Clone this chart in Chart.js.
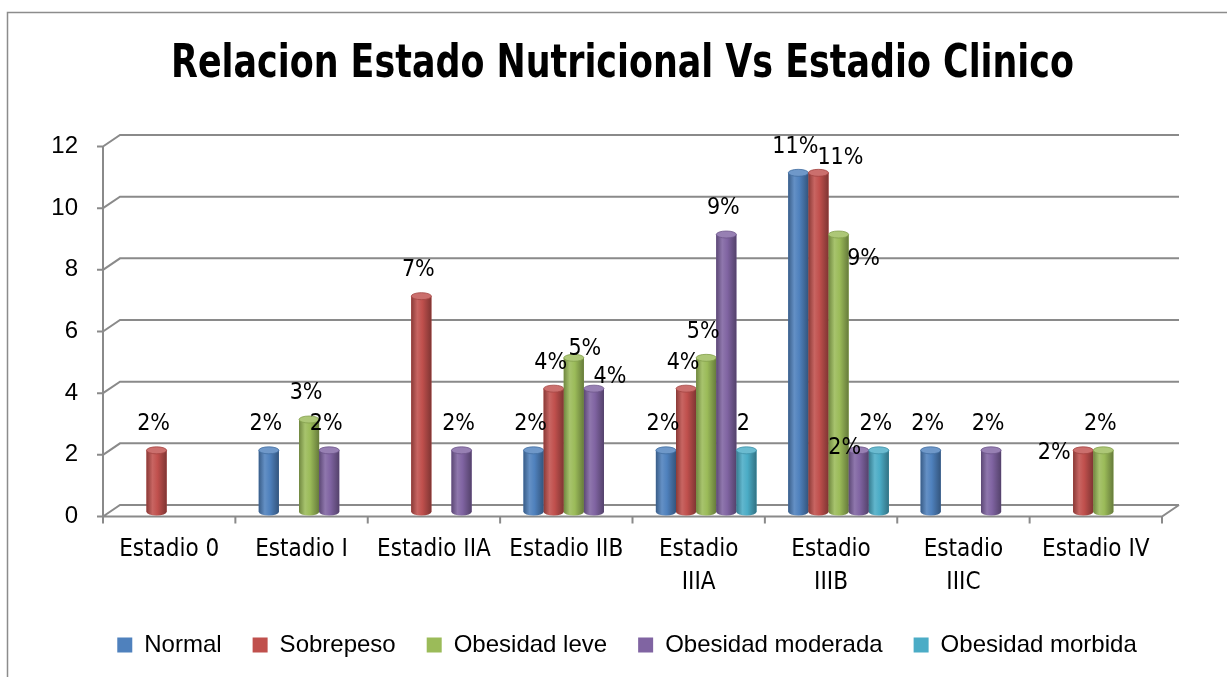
<!DOCTYPE html>
<html>
<head>
<meta charset="utf-8">
<script src="https://cdn.jsdelivr.net/npm/chart.js@4.4.0/dist/chart.umd.min.js"></script>
<style>
  html, body { margin: 0; padding: 0; background: #fff; }
  canvas { display: block; }
</style>
</head>
<body>
<canvas id="chart" width="1227" height="677"></canvas>
<script>
const chartTitle = "Relacion Estado Nutricional Vs Estadio Clinico";
const stages = [
  "Estadio 0",
  "Estadio I",
  "Estadio IIA",
  "Estadio IIB",
  ["Estadio", "IIIA"],
  ["Estadio", "IIIB"],
  ["Estadio", "IIIC"],
  "Estadio IV",
];
const normal = [0, 2, 0, 2, 2, 11, 2, 0];
const sobrepeso = [2, 0, 7, 4, 4, 11, 0, 2];
const obesidadLeve = [0, 3, 0, 5, 5, 9, 0, 2];
const obesidadModerada = [0, 2, 2, 4, 9, 2, 2, 0];
const obesidadMorbida = [0, 0, 0, 0, 2, 2, 0, 0];
const yTicks = [0, 2, 4, 6, 8, 10, 12];

const narrow = "'DejaVu Sans Condensed', 'Liberation Sans Narrow', sans-serif";
const regular = "'Liberation Sans', Arial, sans-serif";
const gridColor = "#8a8a8a";

// label text that differs from "value%"
const labelText = { "4-4": "2" };
// labels Excel moved around to avoid overlaps
const labelNudge = {
  "2-3": [14, 17],
  "3-3": [19, 14],
  "1-5": [25, 11],
  "2-5": [28, 51],
  "3-5": [-11, 24],
  "1-7": [-26, 29],
};

// 3d depth: front plane and back wall relative to where bars stand
const front = { dx: -7.5, dy: 4.5 };
const back = { dx: 9.5, dy: -7 };

function shade(hex, f) {
  const n = parseInt(hex.slice(1), 16);
  const mix = (c) => (f < 1 ? Math.round(c * f) : Math.round(c + (255 - c) * (f - 1)));
  return `rgb(${mix(n >> 16)},${mix((n >> 8) & 255)},${mix(n & 255)})`;
}

const frame = {
  id: "frame",
  beforeDraw(chart) {
    const ctx = chart.ctx;
    ctx.save();
    ctx.strokeStyle = "#8c8c8c";
    ctx.lineWidth = 1.5;
    ctx.beginPath();
    ctx.moveTo(7.5, 677);
    ctx.lineTo(7.5, 12.5);
    ctx.lineTo(1227, 12.5);
    ctx.stroke();
    // title, squeezed like the narrow office font
    ctx.fillStyle = "#000";
    ctx.font = `bold 46.6px ${narrow}`;
    ctx.textAlign = "center";
    ctx.textBaseline = "alphabetic";
    ctx.translate(622.5, 77);
    ctx.scale(0.832, 1);
    ctx.fillText(chartTitle, 0, 0);
    ctx.restore();
  },
  beforeDatasetsDraw(chart) {
    const { ctx, chartArea } = chart;
    const y = chart.scales.y;
    const fl = chartArea.left + front.dx;
    const fr = chartArea.right + front.dx;
    const bl = chartArea.left + back.dx;
    const br = chartArea.right + back.dx;
    const y0 = y.getPixelForValue(0);
    ctx.save();
    ctx.strokeStyle = gridColor;
    ctx.lineWidth = 2;
    ctx.beginPath();
    yTicks.forEach((v) => {
      const p = y.getPixelForValue(v);
      // back wall line + left side wall diagonal
      ctx.moveTo(fl, p + front.dy);
      ctx.lineTo(bl, p + back.dy);
      ctx.lineTo(br, p + back.dy);
      // tick mark
      ctx.moveTo(fl - 6, p + front.dy);
      ctx.lineTo(fl, p + front.dy);
    });
    // front vertical axis
    ctx.moveTo(fl, y.getPixelForValue(12) + front.dy);
    ctx.lineTo(fl, y0 + front.dy);
    // floor front edge + right diagonal
    ctx.lineTo(fr, y0 + front.dy);
    ctx.lineTo(br, y0 + back.dy);
    // category ticks
    const step = (fr - fl) / stages.length;
    for (let i = 0; i <= stages.length; i++) {
      ctx.moveTo(fl + i * step, y0 + front.dy);
      ctx.lineTo(fl + i * step, y0 + front.dy + 7);
    }
    ctx.stroke();
    ctx.restore();
  },
  afterDatasetsDraw(chart) {
    const ctx = chart.ctx;
    const ry = 3.5;
    const bars = [];
    chart.data.datasets.forEach((ds, di) => {
      chart.getDatasetMeta(di).data.forEach((el, i) => {
        if (!ds.data[i]) return;
        const { x, y, base, width } = el.getProps(["x", "y", "base", "width"], true);
        bars.push({ x, y, base, width, c: ds.backgroundColor, di, i, v: ds.data[i] });
      });
    });
    ctx.save();
    bars.forEach((b) => {
      const l = b.x - b.width / 2;
      const r = b.x + b.width / 2;
      const g = ctx.createLinearGradient(l, 0, r, 0);
      g.addColorStop(0, shade(b.c, 0.72));
      g.addColorStop(0.3, shade(b.c, 1.12));
      g.addColorStop(0.55, b.c);
      g.addColorStop(1, shade(b.c, 0.66));
      ctx.fillStyle = g;
      ctx.beginPath();
      ctx.moveTo(l, b.y);
      ctx.lineTo(l, b.base);
      ctx.ellipse(b.x, b.base, b.width / 2, ry, 0, Math.PI, 0, true);
      ctx.lineTo(r, b.y);
      ctx.closePath();
      ctx.fill();
      ctx.beginPath();
      ctx.ellipse(b.x, b.y, b.width / 2, ry, 0, 0, Math.PI * 2);
      ctx.fillStyle = shade(b.c, 1.18);
      ctx.fill();
      ctx.strokeStyle = shade(b.c, 0.85);
      ctx.lineWidth = 0.8;
      ctx.stroke();
    });
    ctx.fillStyle = "#000";
    ctx.font = `23px ${narrow}`;
    ctx.textAlign = "center";
    ctx.textBaseline = "middle";
    bars.forEach((b) => {
      const key = `${b.di}-${b.i}`;
      const [dx, dy] = labelNudge[key] || [0, 0];
      const text = labelText[key] || `${b.v}%`;
      ctx.fillText(text, b.x - 3 + dx, b.y - 26 + dy);
    });
    ctx.restore();
  },
};

new Chart(document.getElementById("chart"), {
  type: "bar",
  data: {
    labels: stages,
    datasets: [
      { label: "Normal", data: normal, backgroundColor: "#4F81BD" },
      { label: "Sobrepeso", data: sobrepeso, backgroundColor: "#C0504D" },
      { label: "Obesidad leve", data: obesidadLeve, backgroundColor: "#9BBB59" },
      { label: "Obesidad moderada", data: obesidadModerada, backgroundColor: "#8064A2" },
      { label: "Obesidad morbida", data: obesidadMorbida, backgroundColor: "#4BACC6" },
    ],
  },
  options: {
    responsive: false,
    animation: false,
    devicePixelRatio: 1,
    barPercentage: 1,
    categoryPercentage: 0.76,
    layout: {
      padding: { left: 84.5, right: 57.5, top: 142, bottom: 10 },
    },
    plugins: {
      title: { display: false },
      legend: {
        position: "bottom",
        labels: {
          color: "#000",
          font: { family: regular, size: 24 },
          boxWidth: 15,
          boxHeight: 15,
          padding: 31,
        },
      },
      tooltip: { enabled: false },
    },
    scales: {
      x: {
        grid: { display: false },
        border: { display: false },
        ticks: {
          color: "#000",
          font: { family: narrow, size: 24, lineHeight: 1.375 },
          padding: 13.5,
          labelOffset: front.dx,
          maxRotation: 0,
          autoSkip: false,
        },
        afterFit: (s) => {
          s.height = 90;
        },
      },
      y: {
        min: 0,
        max: 12,
        grid: { display: false },
        border: { display: false },
        ticks: {
          stepSize: 2,
          color: "#000",
          font: { family: regular, size: 24 },
          mirror: true,
          crossAlign: "far",
          padding: -59.2,
          labelOffset: front.dy,
        },
        afterFit: (s) => {
          s.width = 26;
        },
      },
    },
  },
  plugins: [frame],
});
</script>
</body>
</html>
